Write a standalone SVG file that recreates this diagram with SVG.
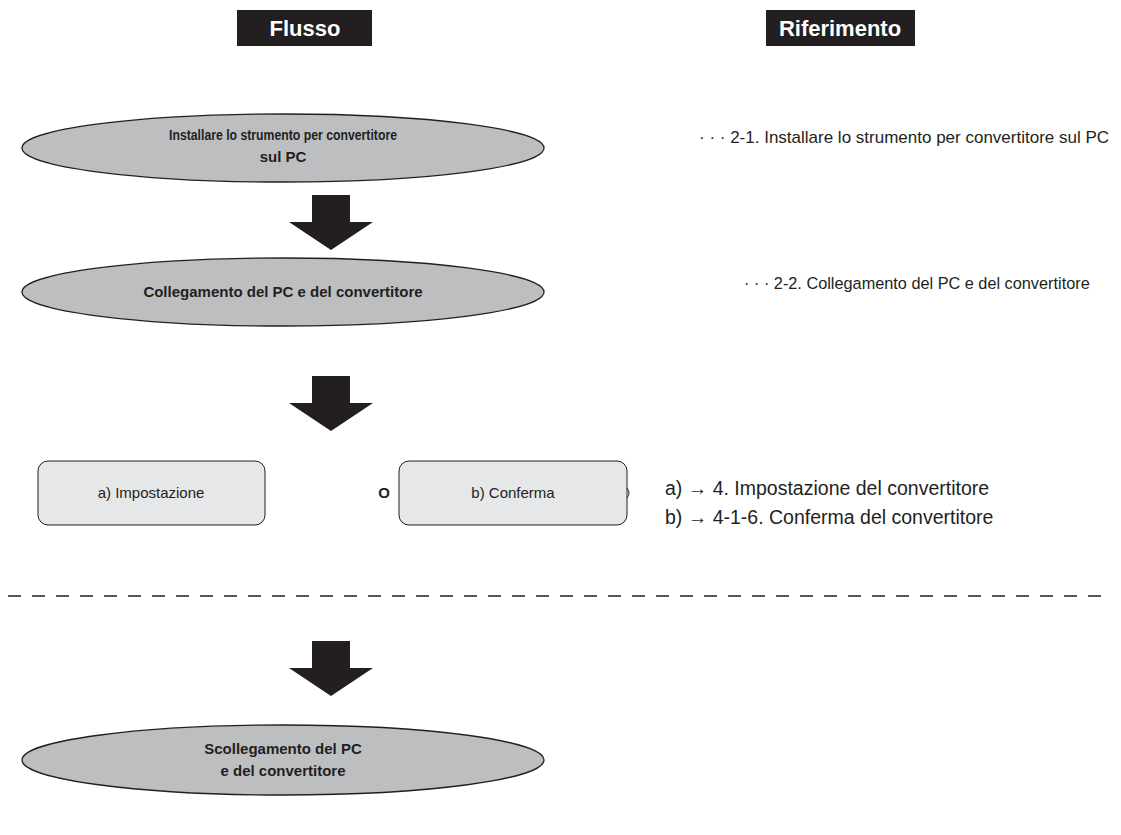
<svg xmlns="http://www.w3.org/2000/svg" width="1121" height="835" viewBox="0 0 1121 835">
<defs>
<style>
.hdr{fill:#231f20}
.hdrt{font-family:"Liberation Sans",Arial,sans-serif;font-weight:bold;font-size:22px;fill:#ffffff;text-anchor:middle}
.ell{fill:#bcbec0;stroke:#231f20;stroke-width:1.3}
.et{font-family:"Liberation Sans",Arial,sans-serif;font-weight:bold;font-size:15px;fill:#231f20;text-anchor:middle}
.box{fill:#e6e7e8;stroke:#231f20;stroke-width:1}
.bt{font-family:"Liberation Sans",Arial,sans-serif;font-size:15px;fill:#231f20;text-anchor:middle}
.rt{font-family:"Liberation Sans",Arial,sans-serif;font-size:17px;fill:#231f20}
.rt2{font-family:"Liberation Sans",Arial,sans-serif;font-size:19.5px;fill:#231f20}
.arr{fill:#231f20}
</style>
<path id="bigArrow" d="M-19,0 H19 V27 H42 L0,55 L-42,27 H-19 Z"/>
</defs>
<rect width="1121" height="835" fill="#ffffff"/>

<g id="header-flusso">
<rect class="hdr" x="237" y="10" width="135" height="36"/>
<text class="hdrt" x="305" y="36">Flusso</text>
</g>
<g id="header-riferimento">
<rect class="hdr" x="766" y="10" width="149" height="36"/>
<text class="hdrt" x="840" y="36">Riferimento</text>
</g>

<g id="node-installare">
<ellipse class="ell" cx="283" cy="148" rx="261" ry="34"/>
<text class="et" x="283" y="140" textLength="228" lengthAdjust="spacingAndGlyphs">Installare lo strumento per convertitore</text>
<text class="et" x="283" y="162">sul PC</text>
</g>
<g id="ref-installare">
<text class="rt" x="699" y="143">· · · 2-1. Installare lo strumento per convertitore sul PC</text>
</g>

<g id="node-collegamento">
<ellipse class="ell" cx="283" cy="292" rx="261" ry="34"/>
<text class="et" x="283" y="297">Collegamento del PC e del convertitore</text>
</g>
<g id="ref-collegamento">
<text class="rt" x="744" y="289" style="font-size:16.3px">· · · 2-2. Collegamento del PC e del convertitore</text>
</g>

<g id="node-impostazione">
<rect class="box" x="38" y="461" width="227" height="64" rx="10"/>
<text class="bt" x="151" y="498">a) Impostazione</text>
</g>
<g id="label-o">
<text class="et" x="384" y="498">O</text>
</g>
<g id="node-conferma">
<rect class="box" x="399" y="461" width="228" height="64" rx="10"/>
<text class="bt" x="513" y="498">b) Conferma</text>
<path d="M627,488 Q631,493 627,498" fill="none" stroke="#231f20" stroke-width="1"/>
</g>
<g id="ref-options">
<text class="rt2" x="665" y="495">a) → 4. Impostazione del convertitore</text>
<text class="rt2" x="665" y="524">b) → 4-1-6. Conferma del convertitore</text>
</g>

<g id="separator">
<line x1="8" y1="596" x2="1112" y2="596" stroke="#231f20" stroke-width="1.5" stroke-dasharray="13 11"/>
</g>

<g id="node-scollegamento">
<ellipse class="ell" cx="283" cy="760" rx="261" ry="35"/>
<text class="et" x="283" y="754">Scollegamento del PC</text>
<text class="et" x="283" y="776">e del convertitore</text>
</g>

<g id="connectors">
<use href="#bigArrow" class="arr" x="331" y="195"/>
<use href="#bigArrow" class="arr" x="331" y="376"/>
<use href="#bigArrow" class="arr" x="331" y="641"/>
</g>
</svg>
